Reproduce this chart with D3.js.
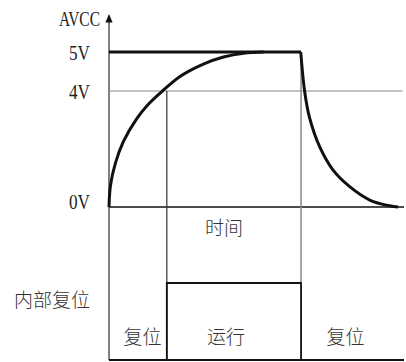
<!DOCTYPE html>
<html>
<head>
<meta charset="utf-8">
<script src="https://cdn.jsdelivr.net/npm/d3@7"></script>
<style>
  body { margin: 0; background: #fff; }
</style>
</head>
<body>
<div id="chart"></div>
<script>
// voltage levels marked on the y axis
const levelLabels = ["5V", "4V", "0V"];
const levelValues = [5, 4, 0];

// AVCC rising after power on (time units, volts)
const riseT = [0, 0.05, 0.22, 0.49, 0.93, 1.31, 1.81, 2.42, 3.2, 3.88, 4.56, 5.24];
const riseV = [0, 0.74, 1.52, 2.26, 3.03, 3.52, 4.0, 4.38, 4.69, 4.87, 4.97, 5];

// AVCC falling after power off
const fallT = [6.5, 6.63, 6.8, 7.14, 7.59, 8.16, 8.84, 9.52, 9.8];
const fallV = [5, 4.0, 3.07, 2.08, 1.28, 0.7, 0.24, 0.04, 0];

// internal reset signal
const phaseNames = ["复位", "运行", "复位"];
const phaseEdges = [0, 1.96, 6.51, 10];
const phaseLevel = [0, 1, 0];

const width = 406, height = 362;
const svg = d3.select("#chart")
              .append("svg")
              .attr("width", width)
              .attr("height", height);

const x = d3.scaleLinear().domain([0, 10]).range([109, 404]);
// drawing is schematic: 4V sits higher than a linear scale would put it
const y = d3.scaleLinear().domain([0, 4, 5]).range([207, 91, 52]);
const logic = d3.scaleLinear().domain([0, 1]).range([360, 283]);

const t1 = phaseEdges[1], t2 = phaseEdges[2];
const serif = "'Liberation Serif', 'DejaVu Serif', serif";
const cjk = "'Noto Sans CJK SC', sans-serif";

// y axis with arrow
svg.append("line")
   .attr("x1", x(0)).attr("x2", x(0))
   .attr("y1", logic(0)).attr("y2", 20)
   .attr("stroke", "#808080").attr("stroke-width", 2);
svg.append("path")
   .attr("d", `M${x(0)},14L${x(0) - 3.6},22.5L${x(0) + 3.6},22.5Z`)
   .attr("fill", "#111");

// 4V threshold
svg.append("line")
   .attr("x1", x(0)).attr("x2", x(9.95))
   .attr("y1", y(4)).attr("y2", y(4))
   .attr("stroke", "#8a8a8a").attr("stroke-width", 1.2);

// 0V baseline
svg.append("line")
   .attr("x1", x(0)).attr("x2", x(10))
   .attr("y1", y(0)).attr("y2", y(0))
   .attr("stroke", "#111").attr("stroke-width", 1.5);

// vertical markers
svg.append("line")
   .attr("x1", x(t1)).attr("x2", x(t1))
   .attr("y1", y(4)).attr("y2", logic(0))
   .attr("stroke", "#333").attr("stroke-width", 1.2);
svg.append("line")
   .attr("x1", x(t2)).attr("x2", x(t2))
   .attr("y1", y(5)).attr("y2", logic(1))
   .attr("stroke", "#888").attr("stroke-width", 1.5);

// 5V plateau
svg.append("line")
   .attr("x1", x(0)).attr("x2", x(t2))
   .attr("y1", y(5)).attr("y2", y(5))
   .attr("stroke", "#111").attr("stroke-width", 3);

const vline = d3.line()
                .x(d => x(d[0]))
                .y(d => y(d[1]))
                .curve(d3.curveCatmullRom.alpha(0.5));
svg.append("path")
   .attr("d", vline(d3.zip(riseT, riseV)))
   .attr("fill", "none").attr("stroke", "#111").attr("stroke-width", 3);
svg.append("path")
   .attr("d", vline(d3.zip(fallT, fallV)))
   .attr("fill", "none").attr("stroke", "#111").attr("stroke-width", 3);

// reset signal
const steps = [];
phaseLevel.forEach((lv, i) => {
    steps.push([phaseEdges[i], lv]);
    steps.push([phaseEdges[i + 1], lv]);
});
svg.append("path")
   .attr("d", d3.line().x(d => x(d[0])).y(d => logic(d[1]))(steps))
   .attr("fill", "none").attr("stroke", "#111").attr("stroke-width", 1.8);
svg.append("line")
   .attr("x1", x(0)).attr("x2", x(10))
   .attr("y1", logic(0)).attr("y2", logic(0))
   .attr("stroke", "#111").attr("stroke-width", 2);

// labels
svg.append("text")
   .attr("x", 59).attr("y", 26)
   .attr("textLength", 41).attr("lengthAdjust", "spacingAndGlyphs")
   .style("font-family", serif).style("font-size", "22px")
   .attr("fill", "#222")
   .text("AVCC");

svg.selectAll(".lvl")
   .data(levelValues)
   .enter()
   .append("text")
   .attr("class", "lvl")
   .attr("x", 69)
   .attr("y", d => y(d) + (d === 0 ? 2 : 8))
   .attr("textLength", 21).attr("lengthAdjust", "spacingAndGlyphs")
   .style("font-family", serif).style("font-size", "22px")
   .attr("fill", "#222")
   .text((d, i) => levelLabels[i]);

const cjkText = (s, cx, cy) => svg.append("text")
   .attr("x", cx).attr("y", cy)
   .attr("text-anchor", "middle").attr("dominant-baseline", "central")
   .style("font-family", cjk).style("font-size", "19px").style("font-weight", 300)
   .attr("fill", "#333")
   .text(s);

cjkText("时间", 224, 226);
cjkText("内部复位", 52, 298.5);

const phaseShift = [4.5, -8, -7];
phaseNames.forEach((d, i) => {
    cjkText(d, (x(phaseEdges[i]) + x(phaseEdges[i + 1])) / 2 + phaseShift[i], 335.5);
});
</script>
</body>
</html>
